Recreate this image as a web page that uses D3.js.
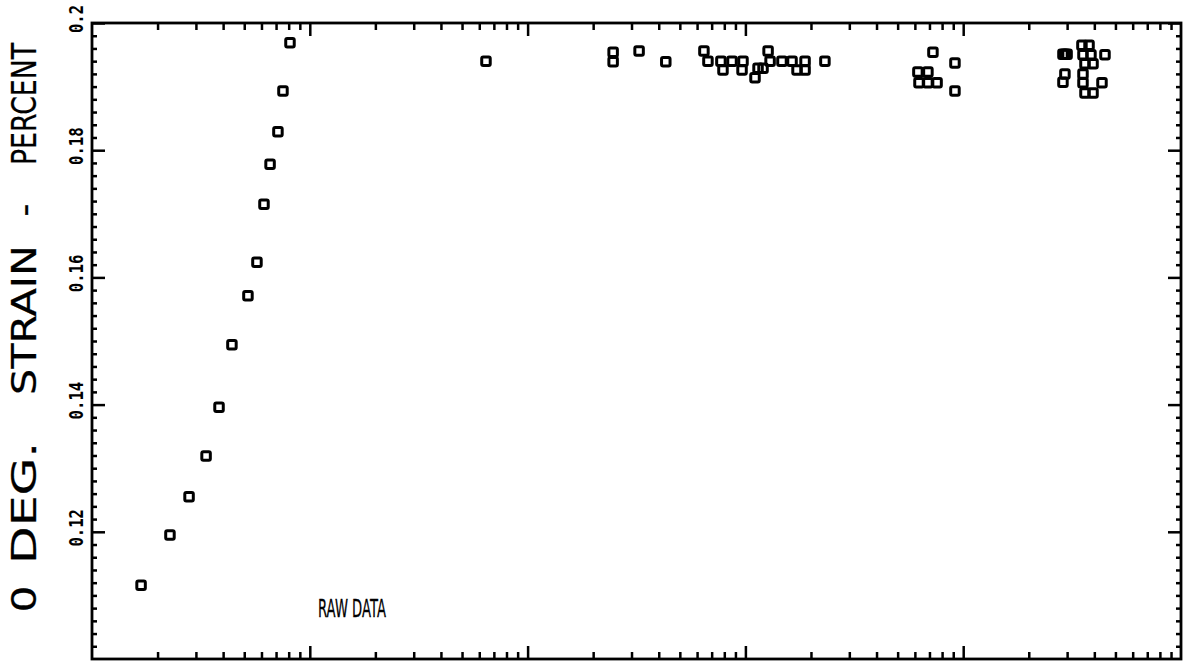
<!DOCTYPE html>
<html><head><meta charset="utf-8">
<script src="https://cdn.jsdelivr.net/npm/d3@7"></script>
<style>body{margin:0;background:#fff}svg{display:block}</style>
</head><body>
<svg id="c" width="1195" height="661"></svg>
<script>
// ---- data ----
const xValues = [
  1.68, 2.28, 2.79, 3.34, 3.83, 4.39, 5.20, 5.72, 6.16, 6.57, 7.14, 7.53, 8.11,
  64.4,
  247, 247, 325, 431,
  645, 673, 772, 789, 868, 965, 975, 1107, 1143, 1205, 1271, 1298, 1472, 1637, 1726, 1879, 1879, 2318,
  6195, 6887, 6266, 6887, 7586, 7262, 9165, 9165,
  28710, 29310, 29990, 35090, 37820, 35480, 38600, 44770, 36240, 39450, 29310, 28710, 35480, 35480, 43370, 36240, 39450
];
const yValues = [
  0.1116, 0.1195, 0.1255, 0.1319, 0.1396, 0.1494, 0.1571, 0.1624, 0.1715, 0.1778, 0.1829, 0.1893, 0.1969,
  0.1940,
  0.1954, 0.1939, 0.1956, 0.1939,
  0.1956, 0.1940, 0.1940, 0.1926, 0.1940, 0.1926, 0.1940, 0.1914, 0.1929, 0.1929, 0.1956, 0.1940, 0.1940, 0.1940, 0.1926, 0.1926, 0.1940, 0.1940,
  0.1923, 0.1923, 0.1906, 0.1906, 0.1906, 0.1954, 0.1937, 0.1893,
  0.1951, 0.1951, 0.1951, 0.1965, 0.1965, 0.1950, 0.1950, 0.1950, 0.1936, 0.1936, 0.1920, 0.1907, 0.1920, 0.1906, 0.1906, 0.1890, 0.1890
];
const xDomain = [1, 100000];
const xMajorTicks = [10, 100, 1000, 10000];
const yDomain = [0.1, 0.2];
const yMajorTicks = [0.12, 0.14, 0.16, 0.18, 0.2];
const yTickLabels = ["0.12", "0.14", "0.16", "0.18", "0.2"];
const yMinorStep = 0.002;
const yTitle = "0 DEG. STRAIN - PERCENT";
const annotation = "RAW DATA";

// ---- layout ----
const L = 92, R = 1181, T = 23, B = 659;
const svg = d3.select("#c");
const x = d3.scaleLog().domain(xDomain).range([L, R]);
const y = d3.scaleLinear().domain(yDomain).range([B, T]);

const xMinor = [];
for (let d = 0; d < 5; d++) for (let k = 2; k <= 9; k++) xMinor.push(k * Math.pow(10, d));
const yMinor = d3.range(0, 51).map(i => +(yDomain[0] + i * yMinorStep).toFixed(4))
  .filter(v => v > yDomain[0] && v < yDomain[1] && !yMajorTicks.some(m => Math.abs(m - v) < 1e-6));

function styleAxis(g){
  g.select(".domain").remove();
  g.selectAll("text").remove();
  g.selectAll("line").attr("stroke", "#000").attr("stroke-width", 2.5);
}
// top edge: ticks point down
svg.append("g").attr("transform", `translate(0,${T})`)
  .call(d3.axisBottom(x).tickValues(xMinor).tickSize(7)).call(styleAxis);
svg.append("g").attr("transform", `translate(0,${T})`)
  .call(d3.axisBottom(x).tickValues(xMajorTicks).tickSize(13)).call(styleAxis);
// bottom edge: ticks point up
svg.append("g").attr("transform", `translate(0,${B})`)
  .call(d3.axisTop(x).tickValues(xMinor).tickSize(7)).call(styleAxis);
svg.append("g").attr("transform", `translate(0,${B})`)
  .call(d3.axisTop(x).tickValues(xMajorTicks).tickSize(13)).call(styleAxis);
// left edge: ticks point right
svg.append("g").attr("transform", `translate(${L},0)`)
  .call(d3.axisRight(y).tickValues(yMinor).tickSize(5)).call(styleAxis);
svg.append("g").attr("transform", `translate(${L},0)`)
  .call(d3.axisRight(y).tickValues(yMajorTicks).tickSize(13)).call(styleAxis);
// right edge: ticks point left
svg.append("g").attr("transform", `translate(${R},0)`)
  .call(d3.axisLeft(y).tickValues(yMinor).tickSize(5)).call(styleAxis);
svg.append("g").attr("transform", `translate(${R},0)`)
  .call(d3.axisLeft(y).tickValues(yMajorTicks).tickSize(13)).call(styleAxis);

// frame
svg.append("rect").attr("x", L).attr("y", T).attr("width", R - L).attr("height", B - T)
  .attr("fill", "none").attr("stroke", "#000").attr("stroke-width", 2.8);

// y tick labels (rotated)
svg.append("g").selectAll("text").data(yMajorTicks).join("text")
  .attr("transform", d => `translate(83,${y(d) - 4}) rotate(-90)`)
  .attr("text-anchor", "middle")
  .attr("font-family", "DejaVu Sans Mono")
  .attr("font-weight", "bold")
  .attr("font-size", 19)
  .attr("textLength", (d, i) => yTickLabels[i].length * 9.4)
  .attr("lengthAdjust", "spacingAndGlyphs")
  .attr("fill", "#000")
  .text((d, i) => yTickLabels[i]);

// y axis title: words placed along the axis (plotter-style spacing)
const titleWords = yTitle.split(" ");
const wordPos = [[599, 27], [503, 122], [320, 150], [210, 13], [104, 122]]; // [centre y, length]
svg.append("g").selectAll("text").data(titleWords).join("text")
  .attr("transform", (d, i) => `translate(36,${wordPos[i][0]}) rotate(-90)`)
  .attr("text-anchor", "middle")
  .attr("font-family", "DejaVu Sans")
  .attr("font-size", 34)
  .attr("textLength", (d, i) => wordPos[i][1])
  .attr("lengthAdjust", "spacingAndGlyphs")
  .attr("stroke", "#000").attr("stroke-width", 0.25)
  .attr("fill", "#000")
  .text(d => d);

// annotation
svg.append("text")
  .attr("x", 318).attr("y", 617)
  .attr("font-family", "DejaVu Sans")
  .attr("font-size", 24)
  .attr("textLength", 68)
  .attr("lengthAdjust", "spacingAndGlyphs")
  .attr("stroke", "#000").attr("stroke-width", 0.3)
  .attr("fill", "#000")
  .text(annotation);

// markers: hollow squares
const pts = xValues.map((v, i) => [v, yValues[i]]);
svg.append("g").selectAll("rect").data(pts).join("rect")
  .attr("x", d => x(d[0]) - 4.25).attr("y", d => y(d[1]) - 4.25)
  .attr("width", 8.5).attr("height", 8.5).attr("rx", 1.5)
  .attr("fill", "none").attr("stroke", "#000").attr("stroke-width", 3);
</script>
</body></html>
